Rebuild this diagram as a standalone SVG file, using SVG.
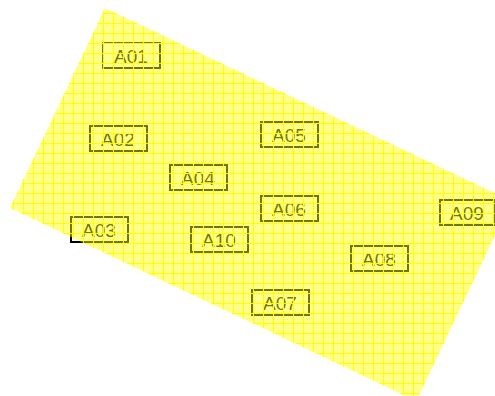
<svg xmlns="http://www.w3.org/2000/svg" width="495" height="396" viewBox="0 0 495 396">
  <style>
    .box { fill: none; stroke: #000; stroke-width: 2; }
    .lbl { font-family: "Liberation Sans", Arial, sans-serif; font-size: 19px; fill: #000; text-anchor: middle; }
  </style>
  <defs>
    <pattern id="checker" width="2" height="2" patternUnits="userSpaceOnUse">
      <rect width="2" height="2" fill="#ffff00" fill-opacity="0.42"/>
      <rect width="1" height="1" fill="#ffff00" fill-opacity="0.15"/>
      <rect x="1" y="1" width="1" height="1" fill="#ffff00" fill-opacity="0.15"/>
    </pattern>
    <pattern id="grid" x="3" y="3" width="10" height="10" patternUnits="userSpaceOnUse">
      <path d="M0.5 0V10M0 0.5H10" stroke="#ffff00" stroke-opacity="0.95" stroke-width="1" fill="none"/>
    </pattern>
  </defs>
  <rect width="495" height="396" fill="#fff"/>
  <g id="A01"><rect class="box" x="103" y="43" width="57" height="25"/><text class="lbl" x="131" y="62.5">A01</text></g>
  <g id="A02"><rect class="box" x="90" y="126" width="57" height="25"/><text class="lbl" x="118" y="145.5">A02</text></g>
  <g id="A03"><rect class="box" x="71" y="217" width="57" height="25"/><text class="lbl" x="99" y="236.5">A03</text></g>
  <g id="A04"><rect class="box" x="170" y="165" width="57" height="25"/><text class="lbl" x="198" y="184.5">A04</text></g>
  <g id="A05"><rect class="box" x="261" y="122" width="57" height="25"/><text class="lbl" x="289" y="141.5">A05</text></g>
  <g id="A06"><rect class="box" x="261" y="196" width="57" height="25"/><text class="lbl" x="289" y="215.5">A06</text></g>
  <g id="A07"><rect class="box" x="252" y="290" width="57" height="25"/><text class="lbl" x="280" y="309.5">A07</text></g>
  <g id="A08"><rect class="box" x="351" y="246" width="57" height="25"/><text class="lbl" x="379" y="265.5">A08</text></g>
  <g id="A09"><rect class="box" x="440" y="200" width="54" height="25"/><text class="lbl" x="467" y="219.5">A09</text></g>
  <g id="A10"><rect class="box" x="191" y="227" width="57" height="25"/><text class="lbl" x="219" y="246.5">A10</text></g>
  <g id="connectors"></g>
  <g id="overlay">
    <polygon points="105,8 511.4,201 416.4,401 10,208" fill="url(#checker)"/>
    <polygon points="105,8 511.4,201 416.4,401 10,208" fill="url(#grid)"/>
  </g>
</svg>
